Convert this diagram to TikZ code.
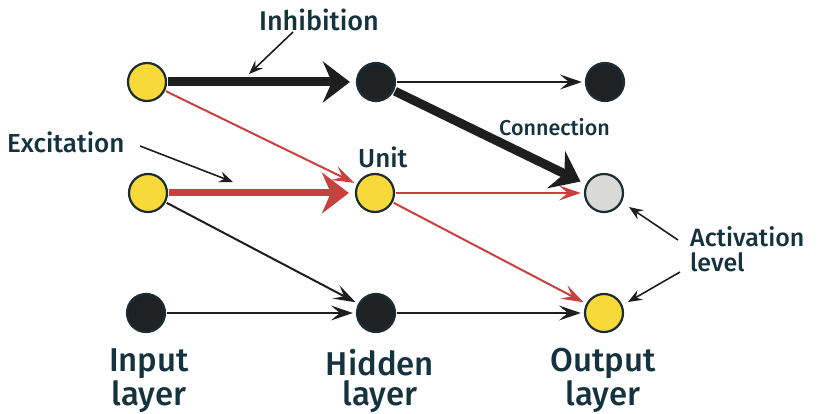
\documentclass[tikz,border=0pt]{standalone}
\usepackage{fontspec}
\setmainfont{Fira Sans}[UprightFont=* Medium]
\usetikzlibrary{arrows.meta}

\definecolor{ink}{HTML}{15323F}
\definecolor{unitline}{HTML}{1B2C33}
\definecolor{unitdark}{HTML}{1E2225}
\definecolor{unityellow}{HTML}{F8D93A}
\definecolor{unitgray}{HTML}{D9D9D5}
\definecolor{linkred}{HTML}{C9403F}
\definecolor{linkblack}{HTML}{1E1E1E}

\tikzset{
  unit/.style={circle, draw=unitline, line width=2.2pt, minimum size=38pt, inner sep=0pt},
  on/.style={unit, fill=unityellow},
  off/.style={unit, fill=unitdark},
  mid/.style={unit, fill=unitgray},
  thinlink/.style={line width=2pt, shorten >=3pt, shorten <=1pt,
    -{Stealth[length=22pt, width=15pt, inset=9pt]}},
  thicklink/.style={line width=9pt, shorten >=6pt, shorten <=1pt,
    -{Stealth[length=27pt, width=41pt, inset=9pt]}},
  pointer/.style={line width=1.6pt, -{Stealth[length=14pt, width=11pt, inset=5pt]}},
  label/.style={text=ink, inner sep=0pt, font=\fontsize{26pt}{30pt}\selectfont},
  small/.style={text=ink, inner sep=0pt, font=\fontsize{21.5pt}{25pt}\selectfont},
  layer/.style={text=ink, inner sep=0pt, align=center, font=\fontsize{33pt}{30pt}\selectfont},
}

\begin{document}
\begin{tikzpicture}[x=1pt, y=-1pt]
  \useasboundingbox (0,0) rectangle (825,414);

  % units: input, hidden and output layer
  \node[on]  (i1) at (147,82)  {};
  \node[on]  (i2) at (148,193) {};
  \node[off] (i3) at (146,313) {};
  \node[off] (h1) at (376,82)  {};
  \node[on]  (h2) at (375,193) {};
  \node[off] (h3) at (376,313) {};
  \node[off] (o1) at (605,82)  {};
  \node[mid] (o2) at (604,193) {};
  \node[on]  (o3) at (604,313) {};

  % connections
  \draw[thicklink, linkblack] (i1) -- (h1);
  \draw[thinlink, linkred] (i1) -- (h2);
  \draw[thicklink, linkred, line width=7pt] (i2) -- (h2);
  \draw[thinlink, linkblack] (i2) -- (h3);
  \draw[thinlink, linkblack] (i3) -- (h3);
  \draw[thinlink, linkblack] (h1) -- (o1);
  \draw[thicklink, linkblack] (h1) -- (o2);
  \draw[thinlink, linkred] (h2) -- (o2);
  \draw[thinlink, linkred] (h2) -- (o3);
  \draw[thinlink, linkblack] (h3) -- (o3);

  % labels
  \node[label, font=\fontsize{27pt}{30pt}\selectfont] (inh) at (319,20) {Inhibition};
  \node[label, anchor=west] (exc) at (7,142) {Excitation};
  \node[label, anchor=west] (unt) at (358,157) {Unit};
  \node[small, anchor=west] (con) at (499,127) {Connection};
  \node[label, anchor=base west, align=left, font=\fontsize{25pt}{25pt}\selectfont]
    (act) at (690,272) {Activation\\level};

  \node[layer, anchor=base] (lin) at (149,405) {Input\\layer};
  \node[layer, anchor=base] (lhid) at (380,405) {Hidden\\layer};
  \node[layer, anchor=base] (lout) at (603,405) {Output\\layer};

  % pointers from the labels
  \coordinate (inhS) at (293,32);
  \coordinate (inhT) at (249,74);
  \coordinate (excS) at (140,146);
  \coordinate (excT) at (233,182);
  \coordinate (actS1) at (678,240);
  \coordinate (actT1) at (629,207);
  \coordinate (actS2) at (680,272);
  \coordinate (actT2) at (628,302);
  \draw[pointer, linkblack] (inhS) -- (inhT);
  \draw[pointer, linkblack] (excS) -- (excT);
  \draw[pointer, linkblack] (actS1) -- (actT1);
  \draw[pointer, linkblack] (actS2) -- (actT2);
\end{tikzpicture}
\end{document}
